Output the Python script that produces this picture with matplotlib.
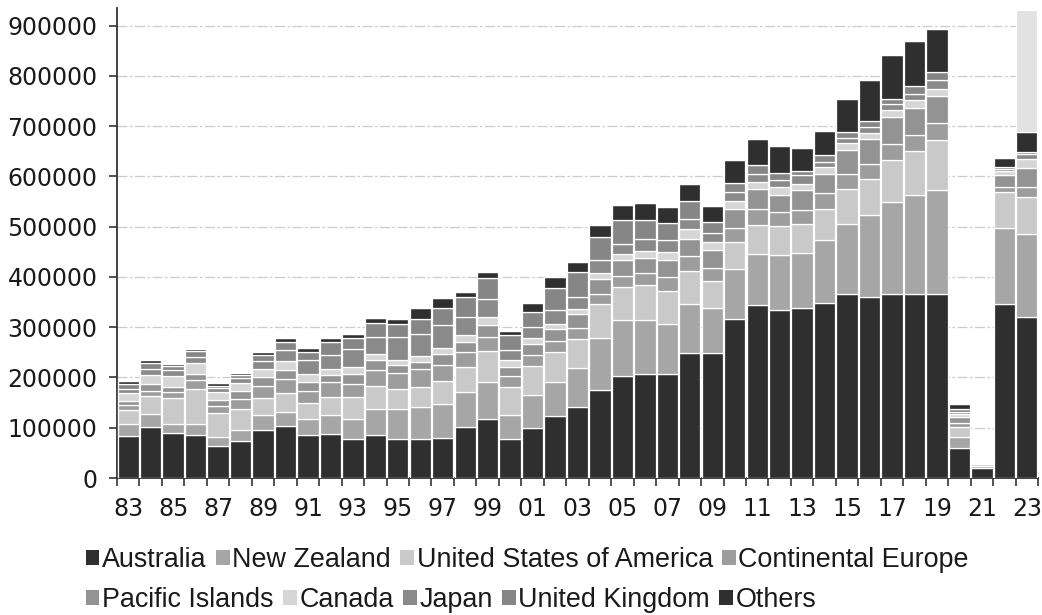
import matplotlib
matplotlib.use("Agg")
import matplotlib.pyplot as plt
import numpy as np
from matplotlib.patches import Patch

years = list(range(1983, 2024))
tick_years = list(range(1983, 2024, 2))
tick_labels = [f"{y % 100:02d}" for y in tick_years]

# values in thousands of visitors
australia = [84, 101, 90, 86, 64, 73, 96, 103, 86, 87, 77, 85, 78, 78, 80, 101, 118, 77,
             99, 124, 142, 176, 203, 207, 207, 248, 249, 317, 344, 335, 339, 349, 367, 360,
             366, 366, 367, 59, 19, 346, 321]
new_zealand = [24, 27, 18, 22, 17, 23, 29, 29, 32, 38, 41, 53, 60, 63, 68, 70, 73, 48,
               66, 67, 76, 103, 112, 107, 100, 99, 90, 99, 102, 108, 109, 124, 139, 163,
               183, 196, 205, 23, 5, 151, 165]
usa = [28, 36, 51, 69, 49, 42, 35, 38, 31, 36, 43, 46, 40, 40, 44, 49, 62, 56,
       57, 60, 59, 68, 65, 70, 65, 65, 52, 54, 57, 58, 57, 63, 68, 72,
       83, 88, 100, 20, 3, 72, 74]
continental_europe = [10, 10, 12, 17, 14, 19, 24, 27, 25, 30, 26, 31, 30, 36, 32, 30, 27, 21,
                      22, 22, 22, 20, 22, 23, 27, 29, 27, 27, 33, 29, 29, 31, 31, 30,
                      33, 33, 34, 8, 2, 10, 19]
pacific_islands = [8, 13, 11, 12, 11, 17, 17, 17, 17, 13, 20, 19, 16, 14, 22, 20, 25, 19,
                   22, 24, 28, 28, 31, 30, 34, 35, 36, 39, 38, 33, 38, 37, 48, 50,
                   54, 54, 54, 12, 2, 23, 38]
canada = [15, 17, 20, 23, 16, 15, 16, 18, 15, 13, 13, 12, 11, 11, 13, 15, 16, 13,
          13, 9, 10, 12, 13, 15, 17, 20, 16, 15, 15, 16, 13, 15, 13, 11,
          13, 14, 14, 6, 1, 9, 18]
japan = [9, 13, 13, 12, 9, 10, 15, 22, 28, 27, 37, 34, 46, 45, 45, 35, 36, 20,
         22, 28, 23, 26, 20, 24, 23, 20, 17, 18, 16, 13, 17, 10, 10, 12,
         12, 13, 17, 4, 0.5, 4, 10]
united_kingdom = [9, 11, 7, 11, 4, 5, 12, 16, 16, 26, 22, 28, 25, 30, 35, 40, 41, 30,
                  29, 43, 50, 46, 47, 38, 34, 35, 22, 18, 17, 15, 9, 13, 13, 13,
                  10, 16, 16, 6, 1, 4, 4]
others = [6, 7, 5, 5, 5, 5, 6, 8, 9, 8, 8, 11, 10, 22, 20, 10, 12, 8,
          18, 22, 20, 24, 31, 34, 33, 33, 33, 45, 53, 53, 46, 49, 65, 81,
          88, 89, 86, 10, 1.5, 17, 39]
# light grey block on top of the 2023 bar (no legend entry)
unallocated = [0] * 40 + [244]

series = [
    ("Australia", australia, "#2f2f2f"),
    ("New Zealand", new_zealand, "#a6a6a6"),
    ("United States of America", usa, "#c9c9c9"),
    ("Continental Europe", continental_europe, "#9d9d9d"),
    ("Pacific Islands", pacific_islands, "#939393"),
    ("Canada", canada, "#d6d6d6"),
    ("Japan", japan, "#8a8a8a"),
    ("United Kingdom", united_kingdom, "#868686"),
    ("Others", others, "#2f2f2f"),
]

fig = plt.figure(figsize=(10.42, 6.15), dpi=100)
ax = fig.add_axes([117 / 1042, 1 - 478 / 615, (1038 - 117) / 1042, (478 - 8) / 615])

x = np.array(years, dtype=float)
bottom = np.zeros(len(years))
handles = []
for name, vals, col in series:
    v = np.array(vals, dtype=float) * 1000
    ax.bar(x, v, bottom=bottom, width=0.95, color=col, edgecolor="white",
           linewidth=0.9, zorder=3)
    bottom += v
    handles.append(Patch(facecolor=col, edgecolor="none", label=name))
ax.bar(x, np.array(unallocated, dtype=float) * 1000, bottom=bottom, width=0.95,
       color="#e2e2e2", edgecolor="white", linewidth=0.9, zorder=3)

ax.set_xlim(1982.5, 2023.5)
ax.set_ylim(0, 935000)
ax.set_yticks(np.arange(0, 900001, 100000))
ax.set_yticklabels([str(v) for v in range(0, 900001, 100000)])
ax.set_xticks(tick_years)
ax.set_xticklabels(tick_labels)
ax.set_xticks(np.arange(1982.5, 2024, 1.0), minor=True)
ax.tick_params(axis="x", which="major", length=0, pad=14, labelsize=17, colors="#1a1a1a")
ax.tick_params(axis="x", which="minor", length=6, width=1.2, color="#333333")
ax.tick_params(axis="y", which="major", length=6, width=1.2, pad=8, labelsize=17,
               colors="#1a1a1a")
ax.tick_params(axis="y", color="#333333")

for s in ["top", "right"]:
    ax.spines[s].set_visible(False)
for s in ["left", "bottom"]:
    ax.spines[s].set_linewidth(1.3)
    ax.spines[s].set_color("#333333")

ax.yaxis.grid(True, color="#cccccc", linewidth=0.9, dashes=(8, 2, 2, 2), zorder=0)
ax.set_axisbelow(True)

legend_font = {"family": ["Liberation Sans", "DejaVu Sans"], "size": 19.4}
kw = dict(frameon=False, handlelength=0.5, handleheight=0.5, handletextpad=0.1,
          columnspacing=0.35, borderaxespad=0, borderpad=0, prop=legend_font,
          labelcolor="#1a1a1a")
fig.legend(handles=handles[:4], ncol=4, loc="center left",
           bbox_to_anchor=(86 / 1042, 1 - 560 / 615), **kw)
fig.legend(handles=handles[4:], ncol=5, loc="center left",
           bbox_to_anchor=(86 / 1042, 1 - 600 / 615), **kw)

fig.savefig("out.png", dpi=100)
